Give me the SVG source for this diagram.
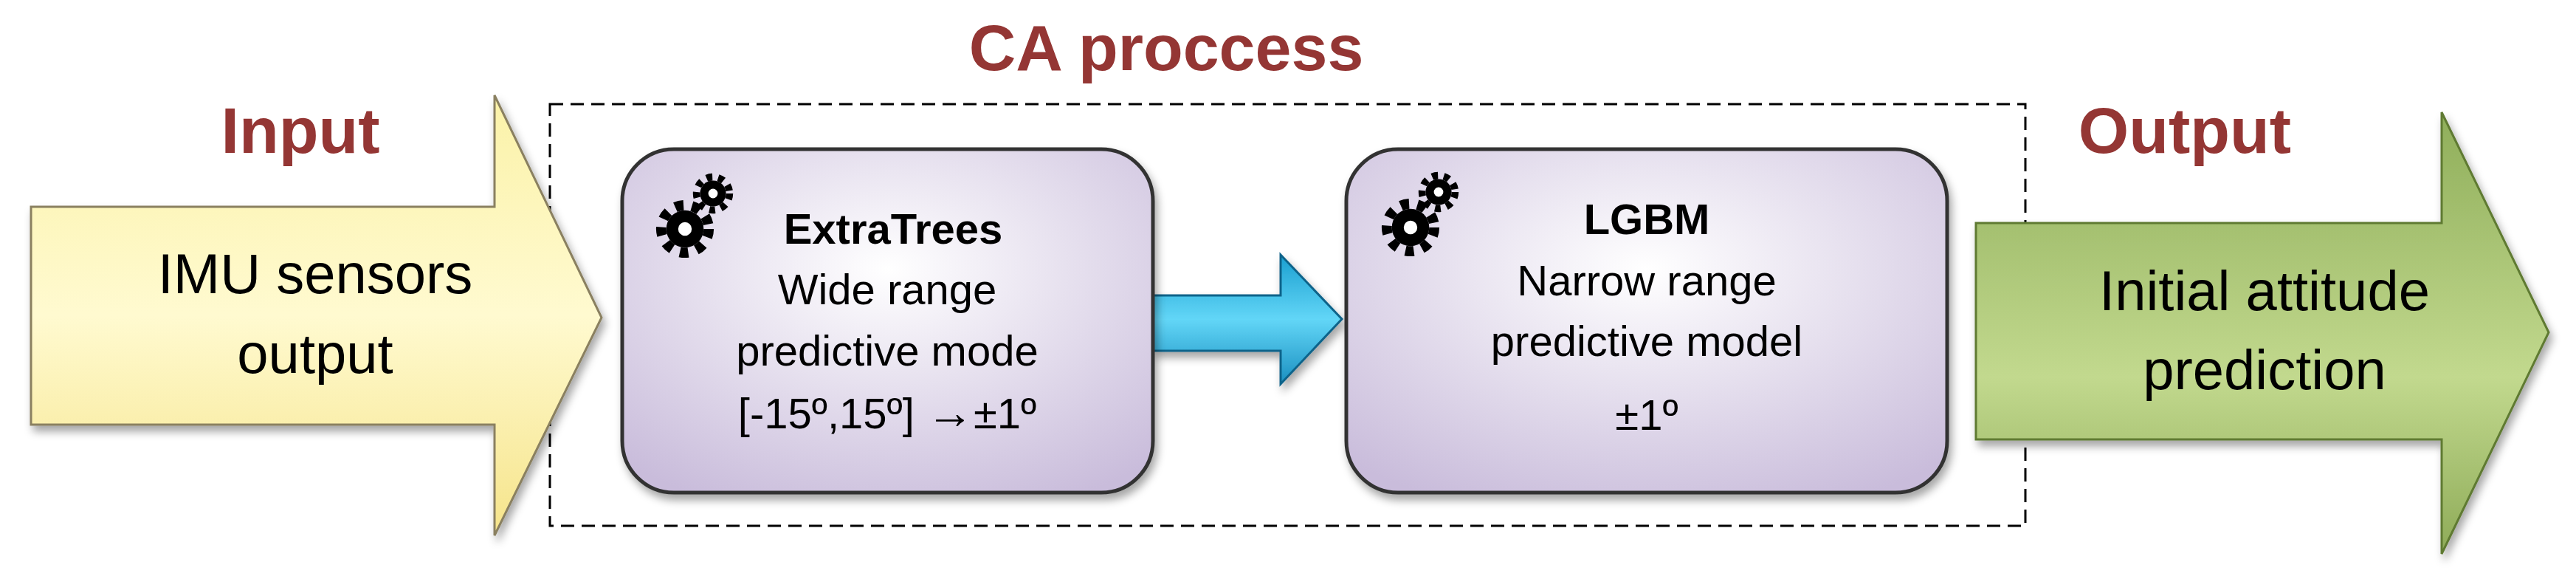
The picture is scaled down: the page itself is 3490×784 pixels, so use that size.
<svg xmlns="http://www.w3.org/2000/svg" width="3490" height="784" viewBox="0 0 3490 784">
<defs>
<linearGradient id="gy" x1="0" y1="0" x2="0" y2="1"><stop offset="0" stop-color="#fbf2a8"/><stop offset="0.5" stop-color="#fffad0"/><stop offset="1" stop-color="#f6e48a"/></linearGradient>
<linearGradient id="gg" x1="0" y1="0" x2="0" y2="1"><stop offset="0" stop-color="#8fae5a"/><stop offset="0.6" stop-color="#c2d98e"/><stop offset="1" stop-color="#8eab58"/></linearGradient>
<linearGradient id="gb" x1="0" y1="0" x2="0" y2="1"><stop offset="0" stop-color="#1a9fd0"/><stop offset="0.5" stop-color="#62d6f7"/><stop offset="1" stop-color="#1a8fc0"/></linearGradient>
<radialGradient id="gp" cx="0.5" cy="0.35" r="0.75"><stop offset="0" stop-color="#ffffff"/><stop offset="1" stop-color="#c9bcdb"/></radialGradient>
<filter id="sh" x="-10%" y="-10%" width="120%" height="130%"><feDropShadow dx="4" dy="8" stdDeviation="6" flood-opacity="0.35"/></filter>
<g id="gear">
<circle cx="0" cy="0" r="22" fill="#000"/>
<circle cx="0" cy="0" r="28" fill="none" stroke="#000" stroke-width="12" stroke-dasharray="10 10"/>
<circle cx="0" cy="0" r="9" fill="#fff" stroke="#000" stroke-width="2"/>
</g>
</defs>
<style>
.lab{font-family:"Liberation Sans",Arial,sans-serif;font-weight:bold;fill:#943634;font-size:88px;text-anchor:middle}
.big{font-family:"Liberation Sans",Arial,sans-serif;font-size:76px;text-anchor:middle;fill:#000}
.bx{font-family:"Liberation Sans",Arial,sans-serif;font-size:58px;text-anchor:middle;fill:#000}
.b{font-weight:bold}
.box{fill:url(#gp);stroke:#333;stroke-width:5}
</style>
<g id="labels">
<text class="lab" x="1580" y="95">CA proccess</text>
<text class="lab" x="407" y="207">Input</text>
<text class="lab" x="2960" y="207">Output</text>
</g>
<g id="ca-process">
<rect x="745" y="141" width="1999" height="571" fill="none" stroke="#000" stroke-width="3" stroke-dasharray="18 10"/>
</g>
<g id="input" filter="url(#sh)">
<polygon points="42,280 670,280 670,129 815,430 670,725 670,575 42,575" fill="url(#gy)" stroke="#8a8060" stroke-width="3"/>
<text class="big" x="427" y="397">IMU sensors</text>
<text class="big" x="427" y="505">output</text>
</g>
<g id="output" filter="url(#sh)">
<polygon points="2677,302 3308,302 3308,152 3453,450 3308,750 3308,595 2677,595" fill="url(#gg)" stroke="#5e7a30" stroke-width="3"/>
<text class="big" x="3068" y="420">Initial attitude</text>
<text class="big" x="3068" y="527">prediction</text>
</g>
<g id="connectors" filter="url(#sh)">
<polygon points="1562,400 1735,400 1735,345 1818,432 1735,520 1735,475 1562,475" fill="url(#gb)" stroke="#10648a" stroke-width="3"/>
</g>
<g id="extratrees" filter="url(#sh)">
<rect class="box" x="843" y="202" width="719" height="465" rx="70"/>
<use href="#gear" transform="translate(928,310) scale(1.15)"/>
<use href="#gear" transform="translate(966,262) scale(0.8)"/>
<text class="bx b" x="1210" y="330">ExtraTrees</text>
<text class="bx" x="1202" y="412">Wide range</text>
<text class="bx" x="1202" y="495">predictive mode</text>
<text class="bx" x="1202" y="580">[-15º,15º] <tspan font-size="64">→</tspan>±1º</text>
</g>
<g id="lgbm" filter="url(#sh)">
<rect class="box" x="1824" y="202" width="814" height="465" rx="70"/>
<use href="#gear" transform="translate(1911,308) scale(1.15)"/>
<use href="#gear" transform="translate(1949,260) scale(0.8)"/>
<text class="bx b" x="2231" y="317">LGBM</text>
<text class="bx" x="2231" y="400">Narrow range</text>
<text class="bx" x="2231" y="482">predictive model</text>
<text class="bx" x="2231" y="582">±1º</text>
</g>
</svg>
